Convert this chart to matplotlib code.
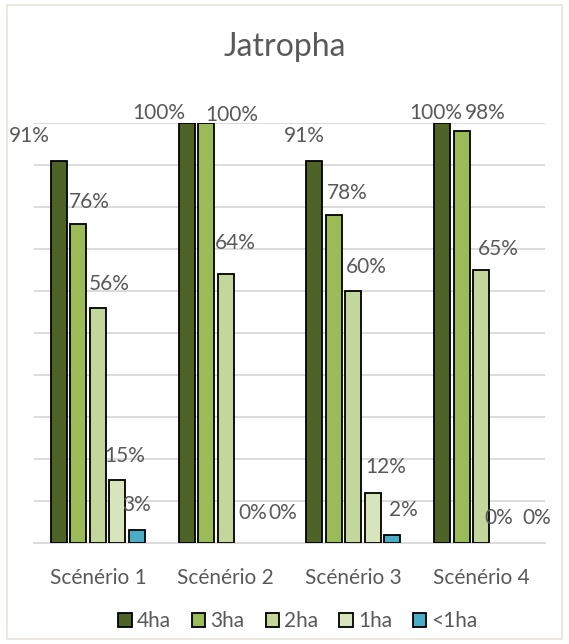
import matplotlib
matplotlib.use("Agg")
import matplotlib.pyplot as plt
from matplotlib.patches import Rectangle
import numpy as np

categories = ["Scénério 1", "Scénério 2", "Scénério 3", "Scénério 4"]
series_names = ["4ha", "3ha", "2ha", "1ha", "<1ha"]
values = {
    "4ha":  [0.91, 1.00, 0.91, 1.00],
    "3ha":  [0.76, 1.00, 0.78, 0.98],
    "2ha":  [0.56, 0.64, 0.60, 0.65],
    "1ha":  [0.15, 0.00, 0.12, 0.00],
    "<1ha": [0.03, 0.00, 0.02, 0.00],
}
colors = {"4ha": "#4F6228", "3ha": "#9BBB59", "2ha": "#C3D69B",
          "1ha": "#D7E4BC", "<1ha": "#4BACC6"}

# label offsets (pixels) relative to bar top centre: (dx, dy)
label_offsets = {
    "4ha":  [(-29, 25), (-28, 10), (-10, 25), (-6, 10)],
    "3ha":  [(11, 22), (26, 8), (13, 22), (24, 18)],
    "2ha":  [(11, 24), (10, 31), (13, 24), (17, 21)],
    "1ha":  [(7, 24), (8, 30), (13, 26), (-2, 25)],
    "<1ha": [(0, 25), (18, 30), (11, 25), (17, 25)],
}

text_color = "#595959"
font = ["Lato", "DejaVu Sans"]
fs = 15

W, H = 569, 644
fig = plt.figure(figsize=(W / 100, H / 100), dpi=100)
fig.patch.set_facecolor("white")
fig.add_artist(Rectangle((7 / W, 5 / H), (562 - 7) / W, (639 - 5) / H,
                         transform=fig.transFigure, fill=False,
                         edgecolor="#E6E4DA", linewidth=1.2))

ax = fig.add_axes([34 / W, (H - 543) / H, (545 - 34) / W, 420 / H])
ax.set_xlim(-0.5, 3.5)
ax.set_ylim(0, 1.0)

x = np.arange(len(categories))
pitch = 0.153
width = 0.125
n = len(series_names)
for i, s in enumerate(series_names):
    xs = x + (i - (n - 1) / 2) * pitch
    lws = [1.3 if v > 0 else 0 for v in values[s]]
    ax.bar(xs, values[s], width=width, color=colors[s],
           edgecolor="black", linewidth=lws, label=s, zorder=3)
    for j, (xx, v) in enumerate(zip(xs, values[s])):
        dx, dy = label_offsets[s][j]
        ax.annotate(f"{round(v * 100):d}%", (xx, v),
                    xytext=(dx * 0.72, dy * 0.72), textcoords="offset points",
                    ha="center", va="center", fontsize=fs, color=text_color,
                    family=font, annotation_clip=False, zorder=4)

ax.set_yticks(np.arange(0, 1.01, 0.1))
ax.yaxis.grid(True, color="#D9D9D9", linewidth=1.3, zorder=0)
ax.set_yticklabels([])
ax.tick_params(axis="y", length=0)
ax.set_xticks(x)
ax.set_xticklabels(categories, fontsize=fs, color=text_color, family=font)
ax.tick_params(axis="x", length=0, pad=18)
for sp in ["top", "right", "left"]:
    ax.spines[sp].set_visible(False)
ax.spines["bottom"].set_color("#D9D9D9")
ax.spines["bottom"].set_linewidth(1.3)

fig.text(0.5, (H - 47) / H, "Jatropha", ha="center", va="center",
         fontsize=23, color=text_color, family=font)

handles, labels = ax.get_legend_handles_labels()
for h in handles:
    h.patches[0].set_linewidth(1.3)
leg = fig.legend(handles, labels, loc="center",
                 bbox_to_anchor=(298 / W, (H - 621) / H), ncol=5, frameon=False,
                 prop={"family": font, "size": fs}, handlelength=0.65,
                 handleheight=0.65, handletextpad=0.25, columnspacing=1.0)
for t in leg.get_texts():
    t.set_color(text_color)

fig.savefig("out.png", dpi=100)
